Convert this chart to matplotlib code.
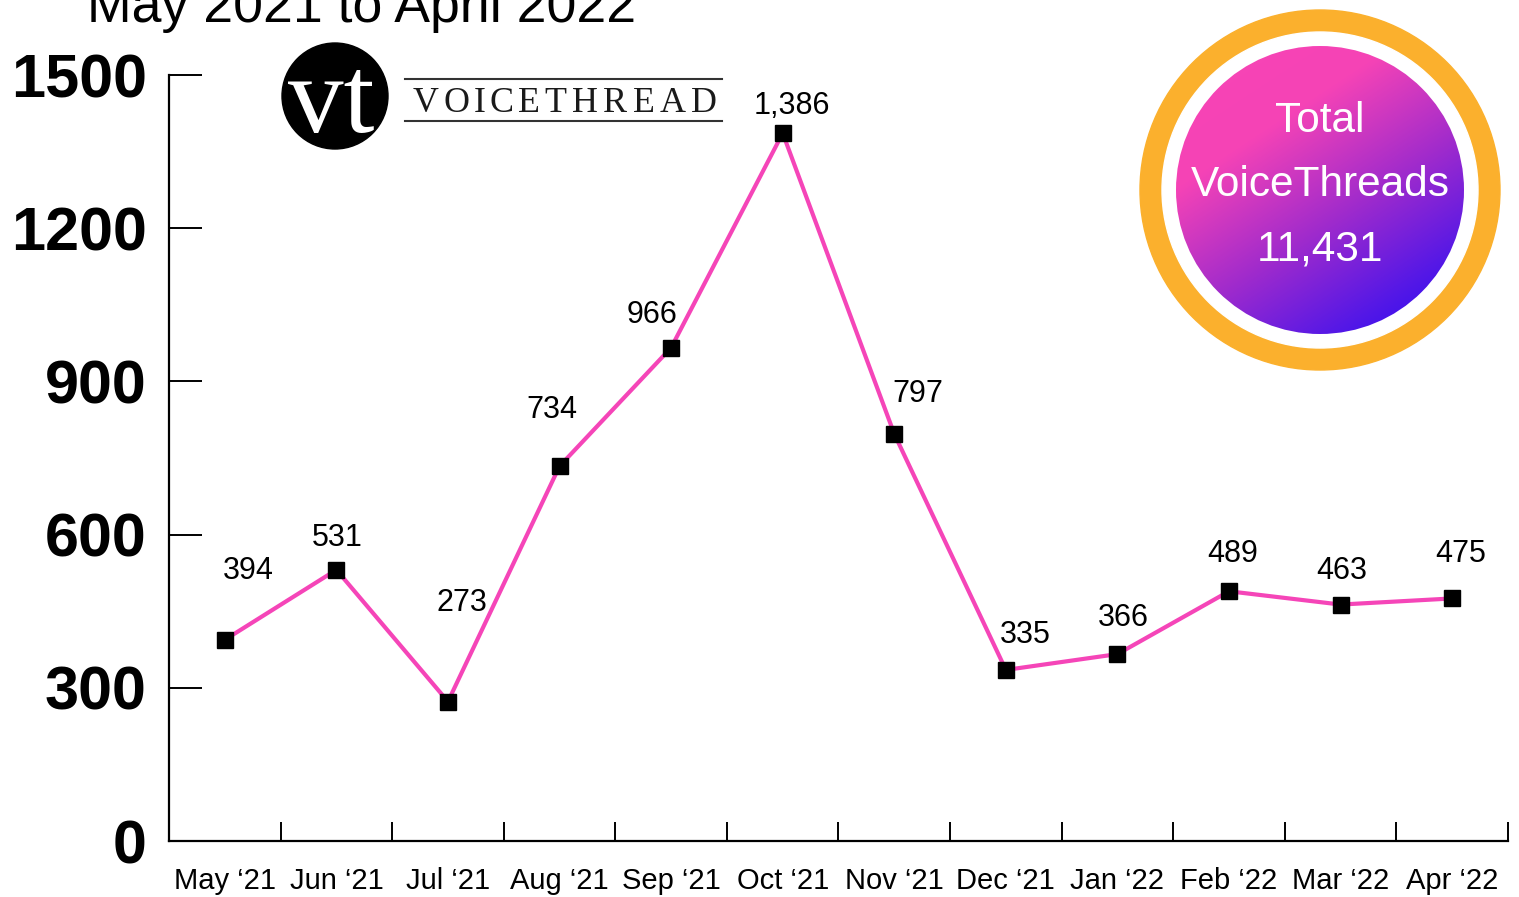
import numpy as np
import matplotlib
matplotlib.use('Agg')
import matplotlib.pyplot as plt
from matplotlib.patches import Circle
from matplotlib.colors import LinearSegmentedColormap
from matplotlib.textpath import TextPath
from matplotlib.font_manager import FontProperties

# ---- data ----
months = ["May ‘21", "Jun ‘21", "Jul ‘21", "Aug ‘21", "Sep ‘21", "Oct ‘21",
          "Nov ‘21", "Dec ‘21", "Jan ‘22", "Feb ‘22", "Mar ‘22", "Apr ‘22"]
threads = [394, 531, 273, 734, 966, 1386, 797, 335, 366, 489, 463, 475]
y_ticks = [0, 300, 600, 900, 1200, 1500]
title = "May 2021 to April 2022"
badge_lines = ["Total", "VoiceThreads", "11,431"]
logo_word = "VOICETHREAD"

# label offsets (pixels) relative to each point
label_offsets = [(23, 69), (1, 32), (14, 99), (-8, 56), (-19, 33), (9, 27),
                 (24, 40), (19, 35), (6, 36), (4, 37), (1, 34), (8, 44)]

W, H = 1519, 897
plt.rcParams['font.family'] = ['Liberation Sans', 'DejaVu Sans']
fig = plt.figure(figsize=(W / 100, H / 100), dpi=100)

ax = fig.add_axes([169 / W, 1 - 841 / H, (1508 - 169) / W, (841 - 75) / H])
ax.set_facecolor('none')
x = np.arange(len(threads)) + 0.5
ax.plot(x, threads, color='#F545B8', lw=3.0, marker='s', ms=11.5,
        mfc='black', mec='black', zorder=3, clip_on=False)
ax.set_xlim(0, 12)
ax.set_ylim(0, 1500)
for s in ['top', 'right']:
    ax.spines[s].set_visible(False)
for s in ['left', 'bottom']:
    ax.spines[s].set_linewidth(1.6)
ax.set_yticks(y_ticks)
ax.set_yticklabels([str(v) for v in y_ticks], fontsize=44, fontweight='bold')
ax.tick_params(axis='y', direction='in', length=24, width=1.4, pad=16)
ax.set_xticks(np.arange(1, 13))
ax.set_xticklabels([])
ax.tick_params(axis='x', which='major', direction='in', length=14, width=1.4)
ax.set_xticks(x, minor=True)
ax.set_xticklabels(months, minor=True, fontsize=21)
ax.tick_params(axis='x', which='minor', length=0, pad=19)

for xi, v, (dx, dy) in zip(x, threads, label_offsets):
    ax.annotate(f"{v:,}", (xi, v), xytext=(dx, dy), textcoords='offset pixels',
                ha='center', va='center', fontsize=22)

# ---- overlay in pixel coordinates ----
ov = fig.add_axes([0, 0, 1, 1], facecolor='none')
ov.axis('off')

ov.text(87, 22, title, fontsize=38.6, ha='left', va='baseline')

# logo
ov.add_patch(Circle((335, 96), 53, color='black', zorder=2))
ov.text(331, 132, "vt", color='white', fontsize=80, family='Liberation Serif',
        ha='center', va='baseline', zorder=3)
ov.plot([405, 722], [79, 79], color='#333333', lw=1.5)
ov.plot([405, 722], [121, 121], color='#333333', lw=1.5)
serif = FontProperties(family='Liberation Serif')
fs_px = 36
widths = [TextPath((0, 0), ch, size=fs_px, prop=serif).get_extents().width
          for ch in logo_word]
x0, x1 = 413, 716
gap = ((x1 - x0) - sum(widths)) / (len(logo_word) - 1)
pos = x0
for ch, w in zip(logo_word, widths):
    ov.text(pos + w / 2, 112, ch, fontsize=fs_px * 0.72, family='Liberation Serif',
            ha='center', va='baseline', color='#1a1a1a')
    pos += w + gap

# badge
cx, cy = 1320, 190
ov.add_patch(Circle((cx, cy), 180, color='#FBB02D', zorder=1))
ov.add_patch(Circle((cx, cy), 158, color='white', zorder=2))
clip = Circle((cx, cy), 144, facecolor='none', edgecolor='none')
ov.add_patch(clip)
n = 400
gx, gy = np.meshgrid(np.linspace(-1, 1, n), np.linspace(-1, 1, n))
t = gx * 0.55 + gy * 0.835
t = (t - t.min()) / (t.max() - t.min())
cmap = LinearSegmentedColormap.from_list(
    'g', [(0, '#F845B5'), (0.3, '#F543B6'), (0.58, '#A02BCC'),
          (0.82, '#5518E6'), (1, '#2408F6')])
im = ov.imshow(t, cmap=cmap, extent=(cx - 144, cx + 144, cy + 144, cy - 144),
               origin='upper', zorder=3, interpolation='bilinear', aspect='auto')
im.set_clip_path(clip)
for i, line in enumerate(badge_lines):
    ov.text(cx, 121 + 64 * i, line, color='white', fontsize=30.5,
            ha='center', va='center', zorder=4)

ov.set_xlim(0, W)
ov.set_ylim(H, 0)

fig.savefig('out.png', dpi=100)
